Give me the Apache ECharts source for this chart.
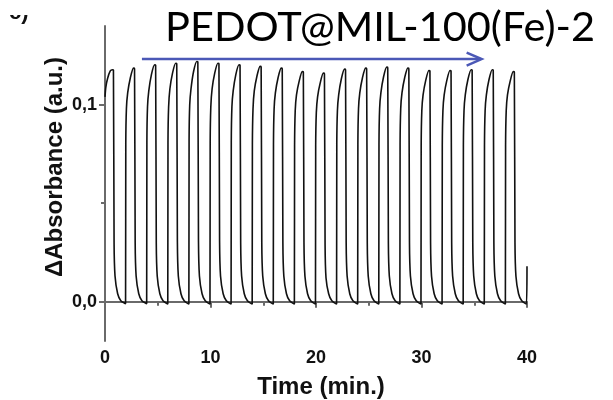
<!DOCTYPE html>
<html>
<head>
<meta charset="utf-8">
<script src="https://cdn.jsdelivr.net/npm/echarts@6/dist/echarts.min.js"></script>
<style>
  html, body { margin: 0; padding: 0; background: #fff; }
  #chart { width: 613px; height: 400px; }
</style>
</head>
<body>
<div id="chart"></div>
<script>
// Switching trace of PEDOT@MIL-100(Fe)-2: change in absorbance vs time, [min, a.u.]
const absorbance = [
  [0.00,0.104],[0.08,0.109],[0.25,0.1135],[0.50,0.1172],[0.70,0.1178],[0.80,0.1176],[0.86,0.030],[0.95,0.013],[1.20,0.004],[1.50,0.0005],
  [1.95,-0.001],[1.97,0.080],[2.03,0.098],[2.15,0.106],[2.40,0.1136],[2.70,0.1186],[2.80,0.1183],[2.86,0.030],[2.95,0.013],[3.20,0.004],[3.50,0.0005],
  [3.95,-0.001],[3.97,0.081],[4.03,0.099],[4.15,0.107],[4.40,0.1153],[4.70,0.1203],[4.80,0.1200],[4.86,0.030],[4.95,0.013],[5.20,0.004],[5.50,0.0005],
  [5.95,-0.0012],[5.97,0.081],[6.03,0.099],[6.15,0.108],[6.40,0.1161],[6.70,0.1211],[6.80,0.1208],[6.86,0.031],[6.95,0.013],[7.20,0.004],[7.50,0.0004],
  [7.95,-0.0012],[7.97,0.082],[8.03,0.100],[8.15,0.108],[8.40,0.1170],[8.70,0.1220],[8.80,0.1217],[8.86,0.031],[8.95,0.013],[9.20,0.004],[9.50,0.0004],
  [9.95,-0.0012],[9.97,0.081],[10.03,0.099],[10.15,0.108],[10.40,0.1161],[10.70,0.1211],[10.80,0.1208],[10.86,0.031],[10.95,0.013],[11.20,0.004],[11.50,0.0004],
  [11.95,-0.0012],[11.97,0.081],[12.03,0.099],[12.15,0.107],[12.40,0.1153],[12.70,0.1203],[12.80,0.1200],[12.86,0.030],[12.95,0.013],[13.20,0.004],[13.50,0.0004],
  [13.95,-0.0012],[13.97,0.080],[14.03,0.098],[14.15,0.107],[14.40,0.1145],[14.70,0.1195],[14.80,0.1192],[14.86,0.030],[14.95,0.013],[15.20,0.004],[15.50,0.0004],
  [15.95,-0.0012],[15.97,0.080],[16.03,0.098],[16.15,0.106],[16.40,0.1136],[16.70,0.1186],[16.80,0.1183],[16.86,0.030],[16.95,0.013],[17.20,0.004],[17.50,0.0004],
  [17.95,-0.0012],[17.97,0.079],[18.03,0.097],[18.15,0.105],[18.40,0.1119],[18.70,0.1169],[18.80,0.1166],[18.86,0.030],[18.95,0.013],[19.20,0.004],[19.50,0.0004],
  [19.95,-0.0012],[19.97,0.079],[20.03,0.096],[20.15,0.104],[20.40,0.1111],[20.70,0.1161],[20.80,0.1158],[20.86,0.029],[20.95,0.012],[21.20,0.004],[21.50,0.0004],
  [21.95,-0.0012],[21.97,0.080],[22.03,0.097],[22.15,0.105],[22.40,0.1131],[22.70,0.1181],[22.80,0.1178],[22.86,0.030],[22.95,0.013],[23.20,0.004],[23.50,0.0004],
  [23.95,-0.0012],[23.97,0.080],[24.03,0.098],[24.15,0.106],[24.40,0.1136],[24.70,0.1186],[24.80,0.1183],[24.86,0.030],[24.95,0.013],[25.20,0.004],[25.50,0.0004],
  [25.95,-0.0012],[25.97,0.080],[26.03,0.098],[26.15,0.106],[26.40,0.1141],[26.70,0.1191],[26.80,0.1188],[26.86,0.030],[26.95,0.013],[27.20,0.004],[27.50,0.0004],
  [27.95,-0.0012],[27.97,0.080],[28.03,0.098],[28.15,0.106],[28.40,0.1136],[28.70,0.1186],[28.80,0.1183],[28.86,0.030],[28.95,0.013],[29.20,0.004],[29.50,0.0004],
  [29.95,-0.0012],[29.97,0.079],[30.03,0.097],[30.15,0.105],[30.40,0.1124],[30.70,0.1174],[30.80,0.1171],[30.86,0.030],[30.95,0.013],[31.20,0.004],[31.50,0.0004],
  [31.95,-0.0012],[31.97,0.079],[32.03,0.097],[32.15,0.105],[32.40,0.1124],[32.70,0.1174],[32.80,0.1171],[32.86,0.030],[32.95,0.013],[33.20,0.004],[33.50,0.0004],
  [33.95,-0.0012],[33.97,0.079],[34.03,0.097],[34.15,0.105],[34.40,0.1128],[34.70,0.1178],[34.80,0.1175],[34.86,0.030],[34.95,0.013],[35.20,0.004],[35.50,0.0004],
  [35.95,-0.0012],[35.97,0.079],[36.03,0.097],[36.15,0.105],[36.40,0.1128],[36.70,0.1178],[36.80,0.1175],[36.86,0.030],[36.95,0.013],[37.20,0.004],[37.50,0.0004],
  [37.95,-0.0012],[37.97,0.079],[38.03,0.097],[38.15,0.105],[38.40,0.1119],[38.70,0.1169],[38.80,0.1166],[38.86,0.030],[38.95,0.013],[39.20,0.004],[39.50,0.0004],
  [39.95,-0.0012],[40.00,0.018]
];

// Axis ticks
const yMajorTicks = [0, 0.1];
const yMinorTicks = [0.05];

// Direction arrow over the cycles, in data units [min, a.u.]
const arrowStart = [3.5, 0.1232];
const arrowEnd = [35.7, 0.1232];

const sampleName = 'PEDOT@MIL-100(Fe)-2';
const panelLabel = 'c)';
const xTitle = 'Time (min.)';
const yTitle = '\u0394Absorbance (a.u.)';

const axisGray = '#6a6a6a';
const labelFont = { color: '#111', fontFamily: '"Liberation Sans", Arial, sans-serif', fontWeight: 'bold', fontSize: 18 };

const chart = echarts.init(document.getElementById('chart'), null, { renderer: 'canvas' });

const option = {
  animation: false,
  backgroundColor: '#fff',
  grid: { left: 105, right: 86, top: 26, bottom: 59, containLabel: false },
  xAxis: {
    type: 'value', min: 0, max: 40, interval: 10,
    axisLine: { show: true, lineStyle: { color: axisGray, width: 2 } },
    axisTick: { show: true, inside: false, length: 6, lineStyle: { color: axisGray, width: 2 } },
    minorTick: { show: true, splitNumber: 2, length: 4, lineStyle: { color: axisGray, width: 2 } },
    axisLabel: Object.assign({ margin: 8 }, labelFont),
    splitLine: { show: false }, minorSplitLine: { show: false }
  },
  yAxis: [
    {
      type: 'value', min: -0.02, max: 0.14, position: 'left',
      axisLine: { show: true, onZero: false, lineStyle: { color: axisGray, width: 2 } },
      axisTick: { show: true, inside: false, length: 6, customValues: yMajorTicks, lineStyle: { color: axisGray, width: 2 } },
      axisLabel: Object.assign({ margin: 8, customValues: yMajorTicks,
        formatter: v => v.toFixed(1).replace('.', ',') }, labelFont),
      splitLine: { show: false }
    },
    {
      type: 'value', min: -0.02, max: 0.14, position: 'left', offset: 0,
      axisLine: { show: false },
      axisTick: { show: true, inside: false, length: 4, customValues: yMinorTicks, lineStyle: { color: axisGray, width: 2 } },
      axisLabel: { show: false },
      splitLine: { show: false }
    }
  ],
  series: [{
    type: 'line',
    data: absorbance,
    showSymbol: false,
    smooth: 0.25,
    lineStyle: { color: '#111', width: 1.6 },
    clip: false
  }]
};
chart.setOption(option);

// Overlay text and the arrow, placed through the grid's coordinate system
const p0 = chart.convertToPixel({ gridIndex: 0 }, arrowStart);
const p1 = chart.convertToPixel({ gridIndex: 0 }, arrowEnd);
const arrowBlue = '#4b58b6';

chart.setOption({
  graphic: [
    { type: 'text', x: 9, y: 24, z: 10,
      style: { text: panelLabel, fill: '#111', font: 'bold 22px "Liberation Sans", Arial, sans-serif', textAlign: 'left', textVerticalAlign: 'bottom' } },
    { type: 'rect', shape: { x: 0, y: 0, width: 60, height: 15 }, z: 11, style: { fill: '#fff' } },
    { type: 'text', x: 165, y: 28, z: 10,
      style: { text: sampleName, fill: '#000', font: '41.5px Lato, "Open Sans", sans-serif', textAlign: 'left', textVerticalAlign: 'middle' } },
    { type: 'text', x: 55, y: 167, rotation: Math.PI / 2, z: 10,
      style: { text: yTitle, fill: '#111', font: 'bold 24px "Liberation Sans", Arial, sans-serif', textAlign: 'center', textVerticalAlign: 'middle' } },
    { type: 'text', x: 321, y: 387, z: 10,
      style: { text: xTitle, fill: '#111', font: 'bold 24px "Liberation Sans", Arial, sans-serif', textAlign: 'center', textVerticalAlign: 'middle' } },
    { type: 'line', z: 10, shape: { x1: p0[0], y1: p0[1], x2: p1[0] - 1, y2: p1[1] },
      style: { stroke: arrowBlue, lineWidth: 2.5 } },
    { type: 'polyline', z: 10,
      shape: { points: [[p1[0] - 15, p1[1] - 6.5], [p1[0], p1[1]], [p1[0] - 15, p1[1] + 6.5]] },
      style: { stroke: arrowBlue, lineWidth: 2.5, fill: null, lineJoin: 'miter' } }
  ]
});
</script>
</body>
</html>
